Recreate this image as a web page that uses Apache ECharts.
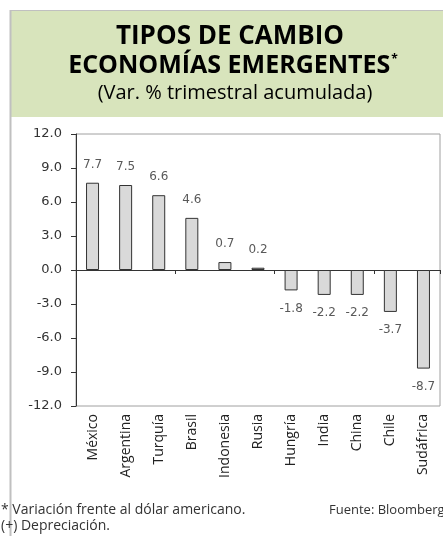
<!DOCTYPE html>
<html>
<head>
<meta charset="utf-8">
<script src="https://cdn.jsdelivr.net/npm/echarts@6/dist/echarts.min.js"></script>
<style>
  html, body { margin: 0; padding: 0; background: #fff; }
  #tipos_cambio { width: 443px; height: 536px; }
</style>
</head>
<body>
<div id="tipos_cambio"></div>
<script>
// datos: variación % trimestral acumulada frente al dólar
var paises = ['México', 'Argentina', 'Turquía', 'Brasil', 'Indonesia', 'Rusia', 'Hungría', 'India', 'China', 'Chile', 'Sudáfrica'];
var variacion = [7.7, 7.5, 6.6, 4.6, 0.7, 0.2, -1.8, -2.2, -2.2, -3.7, -8.7];
var ejeMin = -12;
var ejeMax = 12;
var ejeIntervalo = 3;

var chartDom = document.getElementById('tipos_cambio');
var tc_echarts = echarts.init(chartDom);
var tc_option;

var fuenteTexto = '"Open Sans", Lato, sans-serif';
var fuenteNum = '"DejaVu Sans", Verdana, sans-serif';

tc_option = {
  animation: false,
  graphic: [
    // recuadro verde del encabezado
    { type: 'rect', shape: { x: 11, y: 10, width: 432, height: 107 }, style: { fill: '#d8e4bc' } },
    { type: 'line', shape: { x1: 11, y1: 10.5, x2: 443, y2: 10.5 }, style: { stroke: '#c0c0c0', lineWidth: 1 } },
    { type: 'line', shape: { x1: 10.5, y1: 10, x2: 10.5, y2: 536 }, style: { stroke: '#c0c0c0', lineWidth: 2 } },
    {
      type: 'text', x: 230, y: 37,
      style: { text: 'TIPOS DE CAMBIO', fill: '#000', font: 'bold 26px ' + fuenteTexto, align: 'center', verticalAlign: 'middle' }
    },
    {
      type: 'text', x: 233, y: 66,
      style: {
        text: '{a|ECONOMÍAS EMERGENTES}{b|*}',
        align: 'center', verticalAlign: 'middle',
        rich: {
          a: { fill: '#000', font: 'bold 25px ' + fuenteTexto },
          b: { fill: '#000', font: 'bold 12px ' + fuenteTexto, verticalAlign: 'top', padding: [0, 0, 10, 1] }
        }
      }
    },
    {
      type: 'text', x: 235, y: 93,
      style: { text: '(Var. % trimestral acumulada)', fill: '#000', font: '20px ' + fuenteTexto, align: 'center', verticalAlign: 'middle' }
    },
    // notas al pie
    {
      type: 'text', x: 1, y: 510,
      style: { text: '* Variación frente al dólar americano.', fill: '#333', font: '14px ' + fuenteTexto, verticalAlign: 'middle' }
    },
    {
      type: 'text', x: 1, y: 526,
      style: { text: '(+) Depreciación.', fill: '#333', font: '14px ' + fuenteTexto, verticalAlign: 'middle' }
    },
    {
      type: 'text', x: 329, y: 510,
      style: { text: 'Fuente: Bloomberg', fill: '#333', font: '13px ' + fuenteTexto, verticalAlign: 'middle' }
    }
  ],
  grid: {
    left: 76,
    right: 3,
    top: 134,
    bottom: 130,
    show: true,
    borderColor: '#a0a0a0',
    borderWidth: 1
  },
  xAxis: [
    {
      type: 'category',
      data: paises,
      axisLine: { onZero: true, lineStyle: { color: '#333', width: 1 } },
      axisTick: { show: true, length: 4, lineStyle: { color: '#333' } },
      axisLabel: { show: false }
    },
    {
      type: 'category',
      data: paises,
      position: 'bottom',
      axisLine: { show: false, onZero: false },
      axisTick: { show: false },
      axisLabel: {
        rotate: 90,
        margin: 8,
        color: '#222',
        fontSize: 14,
        fontFamily: fuenteTexto
      }
    }
  ],
  yAxis: {
    type: 'value',
    min: ejeMin,
    max: ejeMax,
    interval: ejeIntervalo,
    axisLine: { show: true, lineStyle: { color: '#333' } },
    axisTick: { show: true, length: 5, lineStyle: { color: '#333' } },
    splitLine: { show: false },
    axisLabel: {
      color: '#333',
      fontSize: 13,
      fontFamily: fuenteNum,
      margin: 14,
      formatter: function (v) {
        return v.toFixed(1);
      }
    }
  },
  series: [
    {
      type: 'bar',
      xAxisIndex: 0,
      barWidth: 13,
      itemStyle: { color: '#d9d9d9', borderColor: '#333', borderWidth: 1 },
      label: {
        show: true,
        distance: 12,
        color: '#595959',
        fontSize: 12,
        fontFamily: fuenteNum,
        formatter: function (p) {
          return p.value.toFixed(1);
        }
      },
      // las etiquetas negativas van debajo de la barra
      data: variacion.map(function (v) {
        return { value: v, label: { position: v < 0 ? 'bottom' : 'top' } };
      })
    }
  ]
};

tc_option && tc_echarts.setOption(tc_option);
</script>
</body>
</html>
